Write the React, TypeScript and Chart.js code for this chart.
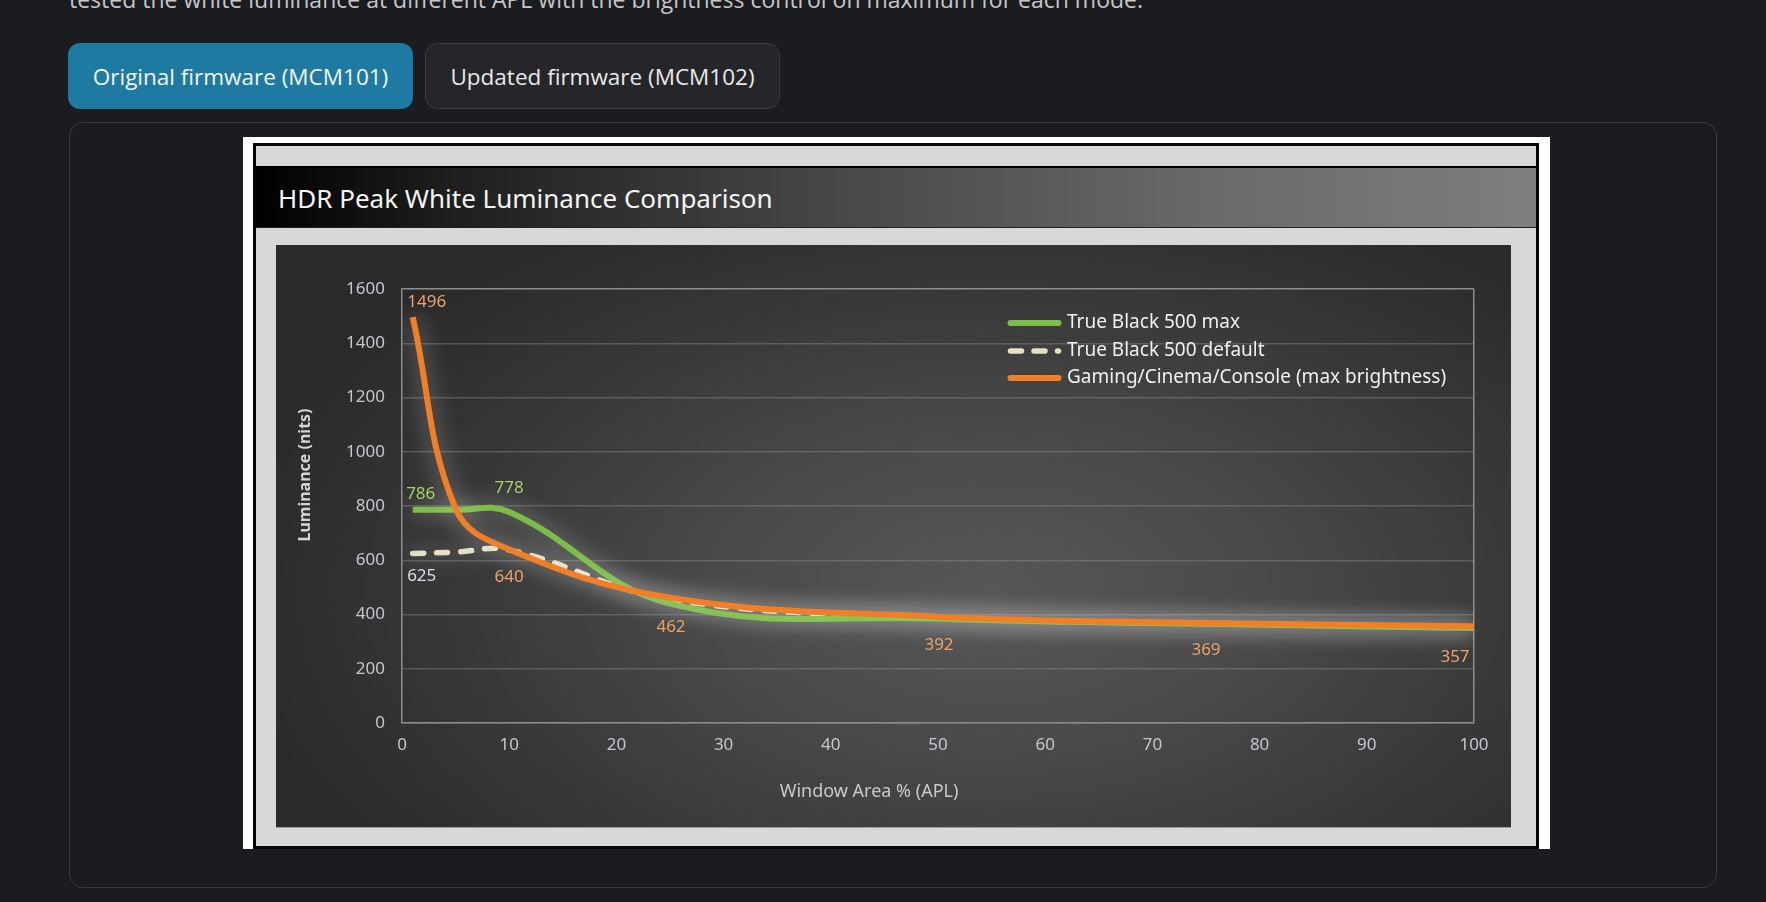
import React, { useEffect, useRef } from 'react';
import { Chart, registerables } from 'chart.js';

Chart.register(...registerables);

// ---- data ----
const APL_PERCENT = [1, 5, 10, 25, 50, 75, 100];
const TB500_MAX = [786, 786, 778, 440, 385, 366, 350];
const TB500_DEFAULT = [625, 630, 638, 456, 389, 367, 354];
const GAMING_MAX = [1496, 790, 640, 462, 392, 369, 357];
const SERIES_NAMES = [
  'True Black 500 max',
  'True Black 500 default',
  'Gaming/Cinema/Console (max brightness)',
];
const X_RANGE = [0, 100];
const X_STEP = 10;
const Y_RANGE = [0, 1600];
const Y_STEP = 200;
const X_TITLE = 'Window Area % (APL)';
const Y_TITLE = 'Luminance (nits)';
const CHART_TITLE = 'HDR Peak White Luminance Comparison';
// which points carry a value label, per series
const LABELLED_POINTS = [[0, 2], [0], [0, 2, 3, 4, 5, 6]];

// ---- styles ----
const FONT = "'Noto Sans', 'DejaVu Sans', sans-serif";
const PAGE_FONT = "'Open Sans', 'Noto Sans', sans-serif";
const COLORS = ['#7cbd47', '#e4e0c6', '#f07f25'];
const LABEL_COLORS = ['#a8d06c', '#dcdde6', '#eba467'];
// label offsets (px) relative to the point, per series, matching LABELLED_POINTS
const LABEL_OFFSETS = [
  [[8, -16], [0, -24]],
  [[9, 23]],
  [[14, -15], [0, 28], [1, 29], [1, 28], [0, 27], [-19, 31]],
];

const glowPlugin = {
  id: 'glow',
  beforeDatasetDraw(chart: any) {
    const ctx = chart.ctx;
    ctx.save();
    ctx.shadowColor = 'rgba(255,255,255,0.5)';
    ctx.shadowBlur = 22;
  },
  afterDatasetDraw(chart: any) {
    chart.ctx.restore();
  },
};

const valueLabelPlugin = {
  id: 'valueLabels',
  afterDatasetsDraw(chart: any) {
    const ctx = chart.ctx;
    ctx.save();
    ctx.font = `17px ${FONT}`;
    ctx.textAlign = 'center';
    ctx.textBaseline = 'middle';
    chart.data.datasets.forEach((ds: any, di: number) => {
      const meta = chart.getDatasetMeta(di);
      LABELLED_POINTS[di].forEach((pi, k) => {
        const el = meta.data[pi];
        if (!el) return;
        const [dx, dy] = LABEL_OFFSETS[di][k];
        ctx.fillStyle = LABEL_COLORS[di];
        ctx.fillText(String(ds.data[pi].y), el.x + dx, el.y + dy);
      });
    });
    ctx.restore();
  },
};

const legendPlugin = {
  id: 'insideLegend',
  afterDraw(chart: any) {
    const ctx = chart.ctx;
    const a = chart.chartArea;
    const rows = [34, 62, 89];
    ctx.save();
    ctx.font = `19px ${FONT}`;
    ctx.textBaseline = 'middle';
    ctx.textAlign = 'left';
    chart.data.datasets.forEach((ds: any, i: number) => {
      const y = a.top + rows[i];
      const x0 = a.left + 608.5;
      ctx.save();
      ctx.strokeStyle = ds.borderColor;
      ctx.lineWidth = ds.borderWidth;
      ctx.lineCap = 'round';
      if (ds.borderDash && ds.borderDash.length) ctx.setLineDash([11, 12.5]);
      ctx.beginPath();
      ctx.moveTo(x0, y);
      ctx.lineTo(x0 + 48, y);
      ctx.stroke();
      ctx.restore();
      ctx.fillStyle = '#f0f0f0';
      ctx.fillText(ds.label, a.left + 665, y);
    });
    ctx.restore();
  },
};

const axisTitlePlugin = {
  id: 'axisTitles',
  afterDraw(chart: any) {
    const ctx = chart.ctx;
    const a = chart.chartArea;
    ctx.save();
    ctx.textAlign = 'center';
    ctx.textBaseline = 'middle';
    ctx.fillStyle = '#c9c9c9';
    ctx.font = `18px ${FONT}`;
    ctx.fillText(X_TITLE, a.left + 467, a.bottom + 69);
    ctx.translate(a.left - 97, a.top + 186);
    ctx.rotate(-Math.PI / 2);
    ctx.fillStyle = '#d4d4d4';
    ctx.font = `bold 16px ${FONT}`;
    ctx.fillText(Y_TITLE, 0, 0);
    ctx.restore();
  },
};

function LuminanceChart() {
  const ref = useRef<HTMLCanvasElement | null>(null);
  useEffect(() => {
    if (!ref.current) return;
    const series = [TB500_MAX, TB500_DEFAULT, GAMING_MAX];
    const chart = new Chart(ref.current, {
      type: 'line',
      data: {
        datasets: series.map((vals, i) => ({
          label: SERIES_NAMES[i],
          data: APL_PERCENT.map((x, j) => ({ x, y: vals[j] })),
          borderColor: COLORS[i],
          borderWidth: i === 1 ? 5.5 : 6,
          borderDash: i === 1 ? [11, 13] : [],
          borderCapStyle: i === 1 ? 'round' : 'butt',
          pointRadius: 0,
          pointHoverRadius: 0,
          tension: 0.4,
          fill: false,
          order: i === 2 ? 0 : i === 0 ? 1 : 2,
        })),
      },
      options: {
        animation: false,
        responsive: false,
        maintainAspectRatio: false,
        events: [],
        layout: { padding: { top: 44, right: 37, left: 0, bottom: 0 } },
        plugins: {
          legend: { display: false },
          tooltip: { enabled: false },
          title: { display: false },
        },
        scales: {
          x: {
            type: 'linear',
            min: X_RANGE[0],
            max: X_RANGE[1],
            ticks: {
              stepSize: X_STEP,
              color: '#c3c7cf',
              font: { family: FONT, size: 17 },
              padding: 12,
              maxRotation: 0,
              callback: (v: any) => String(v),
            },
            grid: {
              drawTicks: false,
              lineWidth: 1.5,
              color: (c: any) => (c.tick && c.tick.value === X_RANGE[1] ? '#8d8d8d' : 'rgba(0,0,0,0)'),
            },
            border: { color: '#8d8d8d', width: 1.5 },
            afterFit: (s: any) => {
              s.height = 104;
            },
          },
          y: {
            type: 'linear',
            min: Y_RANGE[0],
            max: Y_RANGE[1],
            ticks: {
              stepSize: Y_STEP,
              color: '#c3c7cf',
              font: { family: FONT, size: 17 },
              padding: 17,
              callback: (v: any) => String(v),
            },
            grid: {
              drawTicks: false,
              lineWidth: 1.5,
              color: (c: any) => (c.tick && c.tick.value === Y_RANGE[1] ? '#8d8d8d' : 'rgba(150,150,150,0.38)'),
            },
            border: { color: '#8d8d8d', width: 1.5 },
            afterFit: (s: any) => {
              s.width = 126;
            },
          },
        },
      } as any,
      plugins: [glowPlugin, valueLabelPlugin, legendPlugin, axisTitlePlugin],
    });
    return () => chart.destroy();
  }, []);
  return (
    <canvas
      ref={ref}
      width={1235}
      height={582}
      style={{ position: 'absolute', left: 0, top: 0, width: 1235, height: 582 }}
    />
  );
}

export default function App() {
  const btnBase: React.CSSProperties = {
    position: 'absolute',
    top: 43,
    height: 66,
    boxSizing: 'border-box',
    borderRadius: 12,
    display: 'flex',
    alignItems: 'center',
    justifyContent: 'center',
    fontFamily: PAGE_FONT,
    fontSize: 22.5,
  };
  return (
    <div
      style={{
        position: 'fixed',
        left: 0,
        top: 0,
        width: 1766,
        height: 902,
        overflow: 'hidden',
        background: '#1b1c1f',
      }}
    >
      <div
        style={{
          position: 'absolute',
          left: 69,
          top: -17,
          whiteSpace: 'nowrap',
          fontFamily: PAGE_FONT,
          fontSize: 23,
          color: '#c6c7c9',
        }}
      >
        tested the white luminance at different APL with the brightness control on maximum for each mode.
      </div>
      <div style={{ ...btnBase, left: 68, width: 345, background: '#1f7aa1', color: '#f2f4f6' }}>
        Original firmware (MCM101)
      </div>
      <div
        style={{
          ...btnBase,
          left: 425,
          width: 355,
          background: '#252629',
          border: '1px solid #3a3b3f',
          color: '#e9e9ea',
        }}
      >
        Updated firmware (MCM102)
      </div>
      <div
        style={{
          position: 'absolute',
          left: 69,
          top: 122,
          width: 1648,
          height: 766,
          boxSizing: 'border-box',
          border: '1px solid #393a3e',
          borderRadius: 14,
        }}
      />
      {/* picture frame */}
      <div style={{ position: 'absolute', left: 243, top: 137, width: 1307, height: 712, background: '#ffffff' }} />
      <div
        style={{
          position: 'absolute',
          left: 253,
          top: 143,
          width: 1286,
          height: 706,
          boxSizing: 'border-box',
          border: '3px solid #050505',
          background: '#d8d8d8',
        }}
      />
      <div
        style={{
          position: 'absolute',
          left: 256,
          top: 166,
          width: 1280,
          height: 62,
          boxSizing: 'border-box',
          borderTop: '2px solid #000',
          borderBottom: '1px solid #222',
          background: 'linear-gradient(90deg, #000 0%, #1e1e1e 15%, #474747 45%, #6a6a6a 75%, #7e7e7e 100%)',
        }}
      >
        <div
          style={{
            position: 'absolute',
            left: 22,
            top: 30,
            fontFamily: FONT,
            fontSize: 26,
            color: '#f4f4f4',
            whiteSpace: 'nowrap',
            lineHeight: '26px',
            transform: 'translateY(-50%)',
          }}
        >
          {CHART_TITLE}
        </div>
      </div>
      <div
        style={{
          position: 'absolute',
          left: 276,
          top: 245,
          width: 1235,
          height: 582,
          background:
            'radial-gradient(ellipse 62% 75% at 58% 60%, #575757 0%, #4a4a4a 35%, #383838 70%, #2a2a2a 100%)',
          borderBottom: '1px solid #9a9a9a',
        }}
      >
        <LuminanceChart />
      </div>
    </div>
  );
}
